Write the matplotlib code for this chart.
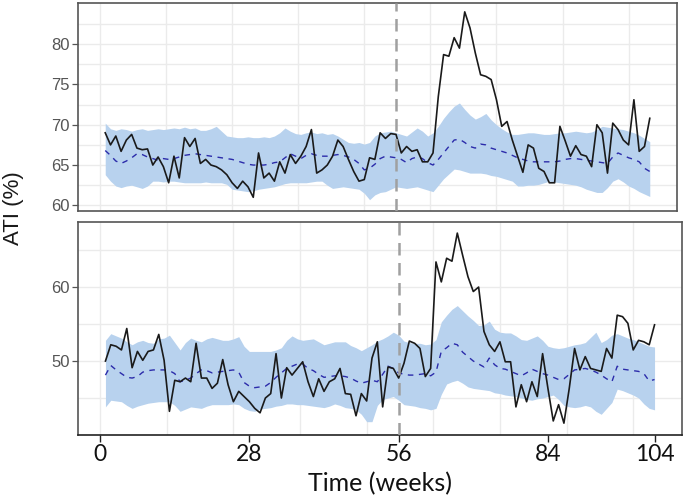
import matplotlib
matplotlib.use("Agg")
import matplotlib.pyplot as plt
import numpy as np

weeks = list(range(1, 105))

# ---- Top panel ----
top_obs = [69.0, 67.5, 68.6, 66.7, 68.1, 68.8, 67.1, 66.9, 67.0, 65.0,
           66.0, 64.8, 62.8, 66.1, 63.4, 68.4, 67.3, 68.3, 65.2, 65.7,
           65.0, 64.8, 64.4, 63.8, 62.8, 62.1, 63.0, 62.3, 61.0, 66.5,
           63.4, 64.0, 63.0, 65.4, 64.0, 66.3, 65.2, 66.1, 67.3, 69.4,
           64.0, 64.4, 65.0, 66.1, 68.1, 67.3, 65.7, 64.2, 63.0, 63.2,
           65.9, 65.7, 69.0, 68.3, 68.9, 68.8, 66.5, 67.3, 66.7, 66.9,
           65.4, 65.4, 66.5, 73.5, 78.7, 78.5, 80.8, 79.5, 84.0, 82.0,
           78.9, 76.2, 76.0, 75.6, 73.1, 69.8, 70.4, 68.1, 66.1, 64.1,
           67.5, 67.1, 64.6, 64.2, 62.8, 62.8, 69.8, 68.0, 66.1, 67.4,
           66.3, 66.1, 64.8, 70.0, 69.0, 64.0, 70.2, 69.4, 68.1, 67.5,
           73.1, 66.7, 67.3, 70.8]
top_mean = [66.8, 66.2, 65.5, 65.2, 65.5, 65.9, 66.4, 66.3, 66.0, 65.8,
            65.6, 65.8, 65.7, 65.8, 66.0, 66.2, 66.3, 66.4, 66.3, 66.2,
            66.1, 66.0, 65.9, 65.8, 65.7, 65.5, 65.3, 65.1, 65.0, 65.0,
            65.0, 65.1, 65.3, 65.4, 65.9, 66.4, 66.1, 65.8, 66.2, 66.4,
            66.2, 66.1, 66.1, 66.2, 66.3, 66.2, 66.0, 65.7, 65.2, 64.4,
            64.6, 65.1, 65.8, 66.1, 66.0, 65.9, 65.7, 65.3, 65.8, 66.0,
            65.8, 65.3, 65.0, 65.7, 66.5, 67.3, 68.1, 68.2, 67.8, 67.3,
            67.1, 67.6, 67.5, 67.1, 66.9, 66.7, 66.5, 66.2, 65.9, 65.7,
            65.5, 65.4, 65.4, 65.4, 65.4, 65.4, 65.5, 65.7, 65.8, 65.8,
            65.7, 65.6, 65.5, 65.4, 65.3, 65.2, 66.0, 66.5, 66.2, 65.9,
            65.7, 65.4, 64.6, 64.2]
top_upper = [70.2, 69.5, 69.3, 69.5, 69.4, 69.2, 69.4, 69.5, 69.3, 69.4,
             69.5, 69.4, 69.5, 69.6, 69.5, 69.7, 69.5, 69.6, 69.3, 69.3,
             69.5, 69.8, 69.2, 68.6, 68.5, 68.4, 68.4, 68.5, 68.4, 68.4,
             68.5, 68.4, 68.6, 69.0, 69.6, 69.2, 68.9, 68.8, 69.0, 69.1,
             68.9, 69.0, 68.8, 68.9, 68.6, 68.2, 67.8, 67.7, 67.8, 67.6,
             67.8, 68.6, 69.0, 69.1, 69.2, 69.0, 68.8, 68.6, 69.1, 69.6,
             69.2, 68.6, 69.0, 69.8, 70.8, 71.6, 72.3, 72.7, 71.9, 71.2,
             70.7, 71.0, 71.4, 70.6, 70.0, 69.5, 69.1, 68.8, 68.8, 68.9,
             69.0, 69.0, 68.9, 68.8, 68.8, 68.9, 69.0, 69.0, 69.1, 69.2,
             69.1, 69.0, 69.1, 69.4, 69.8, 69.7, 69.6, 69.5, 69.4, 69.2,
             69.0, 68.7, 68.3, 67.9]
top_lower = [63.8, 63.0, 62.4, 62.2, 62.4, 62.5, 62.3, 62.1, 62.4, 63.0,
             63.0, 62.9, 63.0, 63.0, 62.9, 62.8, 62.8, 62.8, 62.8, 62.9,
             62.8, 62.8, 62.8, 62.6, 62.0, 61.9, 61.8, 61.7, 61.8, 62.0,
             62.1, 62.2, 62.3, 62.5, 62.7, 62.8, 62.8, 62.8, 62.8, 62.9,
             63.0, 63.0, 62.5, 62.1, 62.2, 62.3, 62.2, 62.1, 62.0, 61.5,
             60.7, 61.3, 61.6, 61.7, 62.0, 62.3, 62.2, 62.1, 62.2, 62.3,
             62.1, 61.9, 61.7, 62.5, 63.3, 63.9, 64.5, 64.4, 64.2, 64.0,
             64.0, 64.0, 63.9, 63.7, 63.6, 63.4, 63.2, 63.0, 62.4, 62.4,
             62.5, 62.5, 62.6, 62.8, 63.0, 62.9, 62.8, 62.7, 62.6, 62.5,
             62.3, 62.0, 61.8, 61.6, 61.6, 62.2, 63.0, 63.3, 62.9, 62.4,
             62.1, 61.7, 61.4, 61.1]

# ---- Bottom panel ----
bot_obs = [50.0, 52.2, 52.0, 51.5, 54.4, 49.1, 51.3, 50.1, 51.3, 51.5,
           53.6, 50.1, 43.2, 47.4, 47.2, 47.7, 47.2, 52.4, 47.7, 47.7,
           46.3, 47.0, 50.2, 46.8, 44.5, 45.9, 45.2, 44.5, 43.6, 43.0,
           45.0, 45.6, 51.0, 45.0, 49.1, 48.1, 49.0, 49.9, 47.2, 45.2,
           47.6, 45.9, 47.2, 47.6, 49.0, 45.6, 45.5, 42.6, 45.6, 44.6,
           50.4, 52.6, 43.8, 49.2, 49.0, 47.7, 49.7, 52.7, 52.4, 51.7,
           47.9, 49.0, 63.4, 60.7, 63.9, 63.5, 67.3, 64.3, 61.4, 59.4,
           60.0, 54.0, 52.2, 51.3, 52.6, 49.9, 49.9, 43.8, 46.8, 44.5,
           47.2, 45.2, 51.0, 46.3, 41.9, 44.1, 41.6, 46.3, 51.7, 48.8,
           50.6, 49.0, 48.8, 48.6, 51.7, 50.4, 56.2, 56.0, 55.1, 51.5,
           52.8, 52.6, 52.2, 54.9]
bot_mean = [48.1, 49.4, 48.8, 48.3, 47.8, 47.7, 47.9, 48.5, 48.7, 48.8,
            48.8, 48.8, 48.7, 48.3, 47.2, 47.4, 47.7, 48.3, 48.8, 48.7,
            48.4, 48.5, 48.6, 48.7, 48.8, 48.5, 47.1, 46.6, 46.4, 46.5,
            46.6, 47.1, 47.8, 48.4, 49.0, 49.3, 49.6, 49.6, 49.0, 48.7,
            48.2, 47.8, 47.9, 48.0, 48.0, 47.9, 47.7, 47.3, 47.0, 47.2,
            47.4, 47.2, 48.2, 49.3, 49.0, 48.4, 48.2, 48.1, 48.1, 48.2,
            48.3, 48.0, 48.5, 51.3, 51.8, 52.4, 52.2, 51.2, 50.6, 50.0,
            49.6, 49.2, 50.4, 49.5, 49.0, 48.9, 48.6, 48.3, 48.0, 48.4,
            48.9, 48.6, 48.3, 48.1, 47.8, 47.5, 47.6, 48.2, 48.8, 48.9,
            49.0, 48.8, 48.5, 48.1, 47.6, 47.2, 49.3, 48.9, 48.8, 48.7,
            48.6, 48.3, 47.3, 47.5]
bot_upper = [52.8, 53.7, 53.4, 53.1, 52.6, 52.2, 52.6, 52.8, 52.5, 52.4,
             53.0, 53.1, 53.5, 52.5, 51.5, 52.5, 53.1, 52.8, 52.6, 53.0,
             53.2, 53.0, 52.8, 52.8, 53.0, 53.3, 52.0, 51.3, 51.3, 51.3,
             51.3, 51.3, 51.5, 51.8, 52.8, 53.4, 53.0, 52.8, 52.9, 53.0,
             52.6, 52.2, 52.4, 52.6, 52.6, 52.6, 52.1, 51.8, 51.4, 51.8,
             52.2, 52.7, 53.0, 53.4, 53.9, 53.5, 52.7, 52.5, 52.4, 52.4,
             52.2, 52.3, 52.9, 55.3, 56.2, 57.0, 57.5, 56.8, 56.1, 55.5,
             54.8, 54.9, 55.4, 54.3, 53.9, 53.8, 53.8, 53.4, 52.9, 52.8,
             53.1, 53.4, 52.8, 52.0, 51.8, 51.7, 51.8, 52.0, 52.2, 52.3,
             52.5, 53.2, 53.9, 52.5, 52.9, 53.5, 53.7, 53.4, 53.1, 52.9,
             52.6, 52.3, 52.0, 51.9]
bot_lower = [43.8, 44.7, 44.6, 44.5, 44.0, 43.6, 43.9, 44.1, 44.3, 44.4,
             44.5, 44.5, 44.5, 44.0, 43.2, 43.5, 43.8, 43.7, 43.6, 43.9,
             44.1, 44.1, 44.1, 44.1, 44.2, 44.1, 43.6, 43.3, 43.2, 43.5,
             43.6, 43.7, 43.9, 44.0, 44.2, 44.2, 44.1, 44.1, 44.0, 43.9,
             43.8, 43.7, 43.9, 44.2, 44.0, 43.7, 43.6, 43.4, 42.8, 41.8,
             41.8, 44.0, 44.8, 45.0, 45.2, 44.7, 44.1, 44.0, 43.9, 43.7,
             43.6, 43.4, 43.6, 45.5, 46.9, 47.2, 47.4, 47.0, 46.5, 46.3,
             46.2, 46.1, 46.0, 45.7, 45.6, 45.4, 45.3, 45.2, 45.0, 44.8,
             44.7, 44.9, 45.0, 45.2, 45.4, 44.8, 44.0, 43.8, 43.7, 43.8,
             44.0, 43.8, 43.2, 42.8, 43.6, 44.4, 46.2, 46.0, 45.7, 45.4,
             45.0, 44.2, 43.6, 43.4]

intervention_week = 56
xtick_values = [0, 28, 56, 84, 104]
top_yticks = [60, 65, 70, 75, 80]
bot_yticks = [50, 60]

BAND = "#B8D2EE"
MEAN = "#2B2BAA"
OBS = "#1A1A1A"
GRID = "#EBEBEB"
FRAME = "#555555"
TICKC = "#555555"

fig = plt.figure(figsize=(6.85, 4.98), dpi=100)
ax1 = fig.add_axes([78/685, 1-211/498, 599/685, 208/498])
ax2 = fig.add_axes([78/685, 1-435/498, 604/685, 213/498])

def style(ax, ylim, yticks, minor):
    ax.set_xlim(-4.15, 109.15)
    ax.set_ylim(*ylim)
    for v in np.arange(0, 101, 12.5):
        ax.axvline(v, color=GRID, lw=1.0, zorder=0)
    for v in list(yticks) + list(minor):
        ax.axhline(v, color=GRID, lw=1.0, zorder=0)
    ax.set_yticks(yticks)
    ax.set_yticklabels([str(t) for t in yticks], fontsize=12,
                       color=TICKC, family="Liberation Sans")
    ax.tick_params(axis="y", length=4, width=0.9, color=TICKC, pad=2)
    for s in ax.spines.values():
        s.set_color(FRAME)
        s.set_linewidth(1.2)
    ax.set_facecolor("white")

def draw(ax, obs, mean, lo, hi):
    ax.fill_between(weeks, lo, hi, color=BAND, lw=0, zorder=1)
    ax.plot(weeks, mean, color=MEAN, lw=1.0, ls=(0, (4, 4)), zorder=2)
    ax.plot(weeks, obs, color=OBS, lw=1.2, zorder=3)
    ax.axvline(intervention_week, color="#A0A0A0", lw=1.8,
               ls=(0, (5, 3)), zorder=4)

style(ax1, (59.3, 85.1), top_yticks, [62.5, 67.5, 72.5, 77.5, 82.5])
draw(ax1, top_obs, top_mean, top_lower, top_upper)
ax1.set_xticks([])

style(ax2, (40.0, 68.8), bot_yticks, [45, 55, 65])
draw(ax2, bot_obs, bot_mean, bot_lower, bot_upper)
ax2.set_xticks(xtick_values)
ax2.set_xticklabels([str(t) for t in xtick_values], fontsize=16.5,
                    family="Lato", color="#111111")
ax2.tick_params(axis="x", length=5, width=1.0, color="#222222", pad=1.5)
ax2.spines["bottom"].set_color("#222222")
ax2.set_xlabel("Time (weeks)", fontsize=18, family="Lato",
               color="#111111", labelpad=5)

fig.text(14/685, 1-208/498, "ATI (%)", rotation=90, ha="center",
         va="center", fontsize=16, family="Liberation Sans", color="#1A1A1A")

fig.savefig("out.png", dpi=100)
